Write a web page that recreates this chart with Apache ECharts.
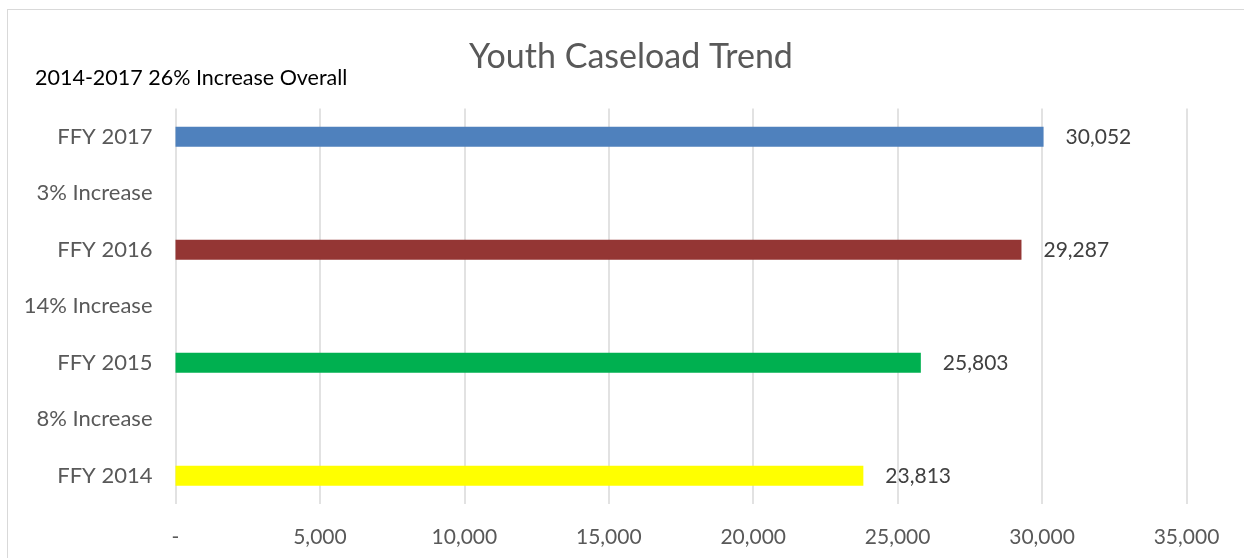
<!DOCTYPE html>
<html>
<head>
<meta charset="utf-8">
<script src="https://cdn.jsdelivr.net/npm/echarts@6/dist/echarts.min.js"></script>
<style>
html,body{margin:0;padding:0;background:#fff;overflow:hidden;}
#frame{position:absolute;left:7px;top:9px;width:1250px;height:600px;border:1.5px solid #d9d9d9;box-sizing:border-box;}
#chart{position:absolute;left:0;top:0;width:1244px;height:558px;}
</style>
</head>
<body>
<div id="frame"></div>
<div id="chart"></div>
<script>
const categories = ['FFY 2014', '8% Increase', 'FFY 2015', '14% Increase', 'FFY 2016', '3% Increase', 'FFY 2017'];
const values = [23813, null, 25803, null, 29287, null, 30052];
const barColors = ['#FFFF00', null, '#00B050', null, '#943634', null, '#4F81BD'];
const xTicks = { min: 0, max: 35000, interval: 5000 };
const titleText = 'Youth Caseload Trend';
const noteText = '2014-2017 26% Increase Overall';

const FONT = 'Lato';
const chart = echarts.init(document.getElementById('chart'), null, { renderer: 'canvas' });
const fmt = v => v === 0 ? '-' : v.toLocaleString('en-US');
chart.setOption({
  animation: false,
  backgroundColor: 'transparent',
  title: [
    { text: titleText, left: 626, top: 35, textAlign: 'center',
      textStyle: { fontFamily: FONT, fontSize: 34, fontWeight: 'normal', color: '#595959' } },
    { text: noteText, left: 30, top: 62,
      textStyle: { fontFamily: FONT, fontSize: 21.5, fontWeight: 'normal', color: '#000000' } }
  ],
  grid: { left: 175.5, right: 57.5, top: 108.5, bottom: 54, containLabel: false },
  xAxis: {
    type: 'value', min: xTicks.min, max: xTicks.max, interval: xTicks.interval,
    axisLine: { show: false }, axisTick: { show: false },
    splitLine: { show: true, lineStyle: { color: '#d9d9d9', width: 1.5 } },
    axisLabel: { formatter: fmt, margin: 23, fontFamily: FONT, fontSize: 21, color: '#595959' }
  },
  yAxis: {
    type: 'category', data: categories,
    axisLine: { show: false }, axisTick: { show: false },
    axisLabel: { margin: 23, fontFamily: FONT, fontSize: 22, color: '#595959' }
  },
  series: [{
    type: 'bar',
    barWidth: 20,
    data: values.map((v, i) => v == null ? '-' : { value: v, itemStyle: { color: barColors[i] } }),
    label: { show: true, position: 'right', distance: 22, fontFamily: FONT, fontSize: 21, color: '#404040',
      formatter: p => fmt(p.value) }
  }]
});
</script>
</body>
</html>
